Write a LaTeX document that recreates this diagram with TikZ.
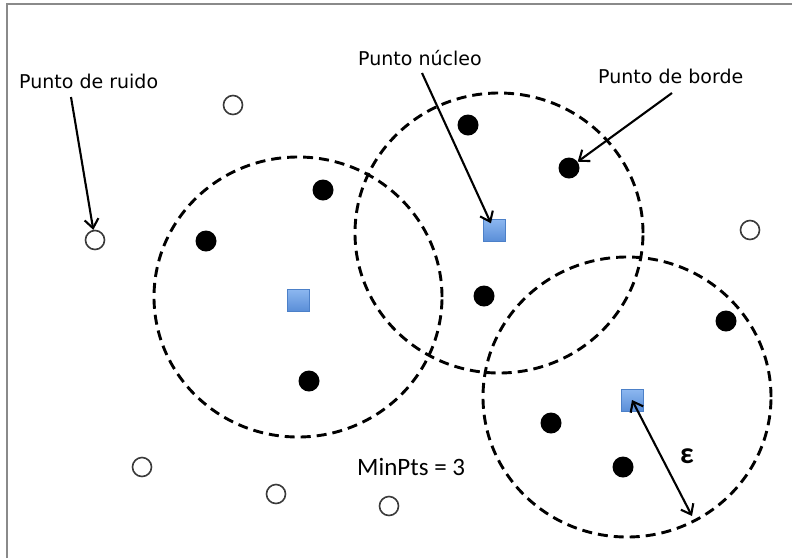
\documentclass[tikz,border=0pt]{standalone}
\usepackage{fontspec}
\setmainfont{DejaVu Sans}
\newfontfamily\calib{Carlito}
\usetikzlibrary{arrows.meta,shapes.geometric}
\definecolor{frameg}{HTML}{8A8A8A}
\definecolor{coretop}{HTML}{8DB8F0}
\definecolor{corebot}{HTML}{5A8ED8}
\definecolor{coreedge}{HTML}{4C80C8}
\definecolor{noiseedge}{HTML}{3A3A3A}
\tikzset{
  region/.style={draw=black, ellipse, line width=2.9pt,
    dash pattern=on 10pt off 6pt, minimum width=288pt, minimum height=280pt, inner sep=0pt},
  corept/.style={rectangle, minimum size=22pt, inner sep=0pt, draw=coreedge, line width=0.6pt,
    top color=coretop, bottom color=corebot},
  borderpt/.style={circle, fill=black, minimum size=21pt, inner sep=0pt},
  noisept/.style={circle, draw=noiseedge, fill=white, line width=1.6pt, minimum size=19pt, inner sep=0pt},
  lbl/.style={anchor=base west, inner sep=0pt, font=\fontsize{19}{22}\selectfont},
  barb/.tip={Straight Barb[length=9pt,width=14pt,line width=2.1pt]},
  pointer/.style={draw=black, line width=2.1pt, -barb},
  span/.style={draw=black, line width=2.1pt, barb-barb}
}
\begin{document}
\begin{tikzpicture}[x=1pt, y=-1pt]
  \useasboundingbox (0,0) rectangle (792,558);
  \fill[white] (0,0) rectangle (792,558);
  % frame edges
  \draw[frameg, line width=2pt] (7,558) -- (7,4) -- (792,4);

  % epsilon neighbourhoods
  \node[region] (reg1) at (298,297) {};
  \node[region] (reg2) at (499,233) {};
  \node[region] (reg3) at (627,397) {};

  % core points
  \node[corept] (core1) at (298,300) {};
  \node[corept] (core2) at (494,230) {};
  \node[corept] (core3) at (632,400) {};

  % border points
  \node[borderpt] (b1) at (323,190) {};
  \node[borderpt] (b2) at (206,241) {};
  \node[borderpt] (b3) at (309,381) {};
  \node[borderpt] (b4) at (468,125) {};
  \node[borderpt] (b5) at (569,168) {};
  \node[borderpt] (b6) at (484,296) {};
  \node[borderpt] (b7) at (726,321) {};
  \node[borderpt] (b8) at (551,423) {};
  \node[borderpt] (b9) at (623,467) {};

  % noise points
  \node[noisept] (n1) at (95,240) {};
  \node[noisept] (n2) at (233,105) {};
  \node[noisept] (n3) at (750,230) {};
  \node[noisept] (n4) at (142,467) {};
  \node[noisept] (n5) at (276,494) {};
  \node[noisept] (n6) at (389,506) {};

  % labels
  \node[lbl] (ruido) at (19,88) {Punto de ruido};
  \node[lbl] (nucleo) at (358,65) {Punto núcleo};
  \node[lbl] (borde) at (598,83) {Punto de borde};
  \node[anchor=base west, inner sep=0pt, font=\calib\fontsize{25}{30}\selectfont] (minpts) at (357,475) {MinPts = 3};
  \node[inner sep=0pt, font=\calib\bfseries\fontsize{30}{34}\selectfont] (epslbl) at (687,456) {ε};

  % pointer tails
  \coordinate (tailR) at (71,97);
  \coordinate (tailN) at (422,73);
  \coordinate (tailB) at (672,93);
  \coordinate (epsEnd) at (692,516);

  \draw[pointer] (tailR) -- (n1);
  \draw[pointer, shorten >=-5pt] (tailN) -- (core2);
  \draw[pointer] (tailB) -- (b5);
  \draw[span] (core3.center) -- (epsEnd);
\end{tikzpicture}
\end{document}
